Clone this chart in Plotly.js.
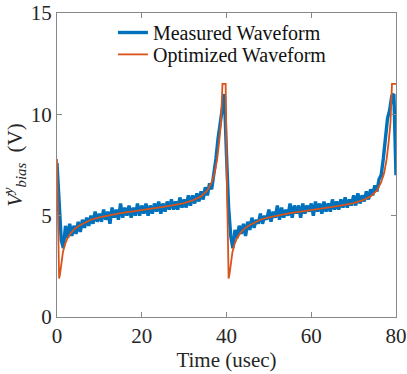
<!DOCTYPE html>
<html>
<head>
<meta charset="utf-8">
<script src="https://cdn.plot.ly/plotly-3.0.1.min.js"></script>
<style>
  html, body { margin: 0; padding: 0; background: #fff; }
  #chart { width: 407px; height: 374px; }
</style>
</head>
<body>
<div id="chart"></div>
<script>
  var measuredStart = 0;
  var measuredStep = 0.5;
  var measuredValues = [
    7.6, 5.8, 3.8, 3.4, 4.5, 3.9, 4.6, 4.0, 4.5, 4.1,
    4.7, 4.2, 4.8, 4.4, 4.9, 4.5, 5.0, 4.6, 5.2, 4.7,
    5.1, 4.7, 5.3, 4.8, 5.2, 4.6, 5.4, 4.9, 5.3, 4.8,
    5.6, 4.9, 5.4, 5.0, 5.5, 4.9, 5.4, 5.0, 5.6, 5.0,
    5.5, 5.1, 5.6, 5.0, 5.5, 5.1, 5.6, 5.2, 5.7, 5.1,
    5.6, 5.2, 5.7, 5.3, 5.8, 5.3, 5.7, 5.3, 5.9, 5.4,
    5.8, 5.4, 6.0, 5.5, 6.0, 5.6, 6.1, 5.7, 6.2, 5.8,
    6.4, 6.0, 6.6, 6.3, 7.0, 7.8, 8.8, 9.6, 10.4, 11.0,
    8.0, 5.4, 4.0, 3.4, 4.3, 3.9, 4.5, 4.1, 4.6, 4.0,
    4.7, 4.3, 4.9, 4.4, 4.8, 4.6, 5.1, 4.6, 5.0, 4.8,
    5.3, 4.7, 5.2, 4.9, 5.5, 4.8, 5.4, 4.9, 5.3, 5.0,
    5.6, 4.9, 5.5, 5.1, 5.5, 4.9, 5.6, 5.1, 5.5, 5.2,
    5.6, 5.0, 5.7, 5.2, 5.6, 5.1, 5.7, 5.2, 5.6, 5.2,
    5.8, 5.3, 5.7, 5.3, 5.8, 5.4, 5.9, 5.4, 5.8, 5.5,
    6.0, 5.5, 6.1, 5.6, 6.0, 5.7, 6.2, 5.8, 6.3, 6.0,
    6.5, 6.2, 6.8, 7.0, 7.8, 8.9, 9.8, 10.2, 10.9, 11.0,
    7.0
  ];

  // optimized waveform (smooth)
  var optTime = [
    0, 0.2, 0.4, 0.5, 0.7, 1.0, 1.4, 1.9, 2.5, 3.3, 4.2, 5.2, 6.5, 8, 10,
    12.5, 15, 17.5, 20, 22.5, 25, 27.5, 30, 32, 34, 35.5, 36.5, 37.2, 37.8,
    38.3, 38.7, 39.05, 39.8,
    40, 40.2, 40.4, 40.5, 40.7, 41.0, 41.4, 41.9, 42.5, 43.3, 44.2, 45.2, 46.5, 48, 50,
    52.5, 55, 57.5, 60, 62.5, 65, 67.5, 70, 72, 74, 75.5, 76.5, 77.2, 77.8,
    78.3, 78.7, 79.05, 80
  ];
  var optValues = [
    7.8, 4.9, 2.4, 1.9, 2.1, 2.7, 3.2, 3.6, 3.9, 4.15, 4.35, 4.5, 4.65, 4.8, 4.92,
    5.03, 5.12, 5.2, 5.27, 5.35, 5.43, 5.52, 5.62, 5.75, 5.95, 6.25, 6.65, 7.1, 7.8,
    8.7, 9.6, 11.5, 11.5,
    7.8, 4.9, 2.4, 1.9, 2.1, 2.7, 3.2, 3.6, 3.9, 4.15, 4.35, 4.5, 4.65, 4.8, 4.92,
    5.03, 5.12, 5.2, 5.27, 5.35, 5.43, 5.52, 5.62, 5.75, 5.95, 6.25, 6.65, 7.1, 7.8,
    8.7, 9.6, 11.5, 11.5
  ];

  var xTicks = [0, 20, 40, 60, 80];
  var yTicks = [0, 5, 10, 15];

  var measuredTime = measuredValues.map(function(v, i) { return measuredStart + i * measuredStep; });

  var traceMeasured = {
    x: measuredTime,
    y: measuredValues,
    type: 'scatter',
    mode: 'lines',
    name: 'Measured Waveform',
    legend: 'legend',
    line: { color: '#0072BD', width: 3.4 }
  };

  var traceOpt = {
    x: optTime,
    y: optValues,
    type: 'scatter',
    mode: 'lines',
    name: 'Optimized Waveform',
    legend: 'legend2',
    line: { color: '#D95319', width: 1.8 }
  };

  var police = 'Liberation Serif, Times New Roman, serif';

  // une légende par ligne pour maîtriser l'interligne
  function legende(yPos) {
    return {
      x: 0.165, y: yPos, xanchor: 'left', yanchor: 'top',
      bgcolor: 'rgba(0,0,0,0)',
      font: { family: police, size: 20, color: '#111' },
      itemwidth: 30
    };
  }

  var layout = {
    width: 407,
    height: 374,
    margin: { l: 57, r: 11, t: 13, b: 57 },
    paper_bgcolor: '#fff',
    plot_bgcolor: '#fff',
    font: { family: police, size: 21, color: '#262626' },
    showlegend: true,
    legend: legende(1.0),
    legend2: legende(0.928),
    xaxis: {
      range: [0, 80],
      tickvals: xTicks,
      ticks: 'inside', ticklen: 5, tickcolor: '#888',
      showline: true, linecolor: '#888', linewidth: 1, mirror: 'ticks',
      showgrid: false, zeroline: false,
      tickfont: { size: 21, color: '#262626' },
      title: { text: 'Time (usec)', font: { size: 21, color: '#262626' }, standoff: 4 }
    },
    yaxis: {
      range: [0, 15],
      tickvals: yTicks,
      ticks: 'inside', ticklen: 5, tickcolor: '#888',
      showline: true, linecolor: '#888', linewidth: 1, mirror: 'ticks',
      showgrid: false, zeroline: false,
      tickfont: { size: 21, color: '#262626' },
      title: {
        text: '<i>V</i><sup><i>y</i></sup><sub><i>bias</i></sub>  (V)',
        font: { size: 21, color: '#262626' },
        standoff: 6
      }
    }
  };

  Plotly.newPlot('chart', [traceMeasured, traceOpt], layout, { displayModeBar: false, staticPlot: true });
</script>
</body>
</html>
